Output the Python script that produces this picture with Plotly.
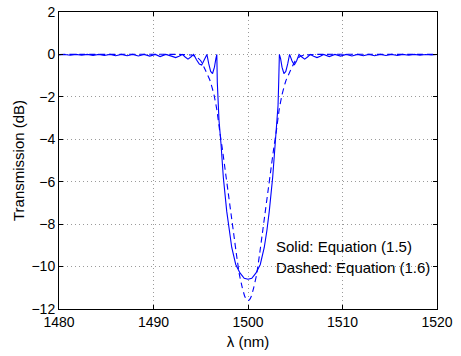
import plotly.graph_objects as go

# Wavelength grid (nm) and transmission (dB), solid curve: Equation (1.5)
lam_solid = [
    1480.0, 1480.6, 1481.2, 1481.8, 1482.4, 1483.0, 1483.6, 1484.2, 1484.8,
    1485.4, 1486.0, 1486.6, 1487.2, 1487.8, 1488.4, 1489.0, 1489.6, 1490.2,
    1490.7, 1491.3, 1491.9, 1492.35, 1492.7, 1493.05, 1493.35, 1493.65, 1493.95,
    1494.25, 1494.55, 1494.85, 1495.1, 1495.35, 1495.65, 1495.85, 1496.05, 1496.25,
    1496.45, 1496.6, 1496.70, 1496.75, 1496.82, 1496.93, 1497.14, 1497.39, 1497.75,
    1498.0, 1498.28, 1498.7, 1499.15, 1499.6, 1500.0, 1500.4, 1500.85, 1501.3,
    1501.72, 1502.0, 1502.25, 1502.61, 1502.86, 1503.07, 1503.18, 1503.25, 1503.32,
    1503.45, 1503.6, 1503.8, 1504.0, 1504.2, 1504.4, 1504.65, 1504.9, 1505.15,
    1505.4, 1505.7, 1506.0, 1506.3, 1506.6, 1506.95, 1507.3, 1507.65, 1508.0,
    1508.6, 1509.2, 1509.8, 1510.4, 1511.0, 1511.6, 1512.2, 1512.8, 1513.4,
    1514.0, 1514.6, 1515.2, 1515.8, 1516.4, 1517.0, 1517.6, 1518.2, 1518.8,
    1519.4, 1520.0,
]
db_solid = [
    -0.03, 0.0, -0.04, 0.0, -0.04, 0.0, -0.05, 0.0, -0.05,
    0.0, -0.06, 0.0, -0.06, 0.0, -0.07, 0.0, -0.08, 0.0,
    -0.1, 0.0, -0.08, -0.15, -0.08, 0.0, -0.12, -0.22, -0.12,
    0.0, -0.25, -0.45, -0.5, -0.3, 0.0, -0.45, -0.8, -0.9,
    -0.6, -0.2, 0.0, -1.3, -2.4, -3.1, -4.2, -5.8, -7.4,
    -8.3, -9.1, -9.9, -10.3, -10.55, -10.6, -10.55, -10.3, -9.9,
    -9.1, -8.3, -7.4, -5.8, -4.2, -3.1, -2.4, -1.3, 0.0,
    -0.2, -0.6, -0.9, -0.8, -0.45, 0.0, -0.3, -0.5, -0.3,
    0.0, -0.12, -0.22, -0.12, 0.0, -0.08, -0.15, -0.08, 0.0,
    -0.1, 0.0, -0.08, 0.0, -0.07, 0.0, -0.06, 0.0, -0.06,
    0.0, -0.05, 0.0, -0.05, 0.0, -0.04, 0.0, -0.04, 0.0,
    -0.03, 0.0,
]

# Dashed curve: Equation (1.6)
lam_dashed = [
    1480.0, 1493.0, 1494.0, 1494.5, 1495.0, 1495.5, 1496.0, 1496.4, 1496.7,
    1497.0, 1497.3, 1497.6, 1497.9, 1498.2, 1498.5, 1498.8, 1499.1, 1499.4,
    1499.65, 1499.85, 1500.0, 1500.15, 1500.35, 1500.6, 1500.9, 1501.2, 1501.5,
    1501.8, 1502.1, 1502.4, 1502.7, 1503.0, 1503.3, 1503.6, 1504.0, 1504.5,
    1505.0, 1505.5, 1506.0, 1507.0, 1520.0,
]
db_dashed = [
    0.0, 0.0, -0.03, -0.1, -0.3, -0.75, -1.25, -1.9, -2.6,
    -3.6, -4.5, -5.5, -6.5, -7.5, -8.5, -9.5, -10.4, -11.0,
    -11.4, -11.57, -11.6, -11.57, -11.4, -11.0, -10.4, -9.5, -8.5,
    -7.5, -6.5, -5.5, -4.5, -3.6, -2.6, -1.9, -1.25, -0.75,
    -0.3, -0.1, -0.03, 0.0, 0.0,
]

x_ticks = [1480, 1490, 1500, 1510, 1520]
y_ticks = [-12, -10, -8, -6, -4, -2, 0, 2]
legend_lines = ["Solid: Equation (1.5)", "Dashed: Equation (1.6)"]

BLUE = "#0000ff"
FONT = "Liberation Sans, Arial, sans-serif"

fig = go.Figure()
fig.add_trace(go.Scatter(
    x=lam_solid, y=db_solid, mode="lines",
    line=dict(color=BLUE, width=1.1),
    showlegend=False, hoverinfo="skip",
))
fig.add_trace(go.Scatter(
    x=lam_dashed, y=db_dashed, mode="lines",
    line=dict(color=BLUE, width=1.1, dash="6px,4px", shape="spline", smoothing=0.4),
    showlegend=False, hoverinfo="skip",
))

# Text key placed inside the axes, lower right
for i, txt in enumerate(legend_lines):
    fig.add_annotation(
        x=1502.75, y=-9.05 - i * 0.98, xref="x", yref="y",
        text=txt, showarrow=False, xanchor="left", yanchor="middle",
        font=dict(family=FONT, size=15, color="black"),
    )

axis_common = dict(
    showline=True, linecolor="black", linewidth=1, mirror="ticks",
    ticks="inside", ticklen=4, tickcolor="black", tickwidth=1,
    showgrid=True, gridcolor="#9a9a9a", gridwidth=1, griddash="1px,3px",
    zeroline=False, automargin=False,
    tickfont=dict(family=FONT, size=14, color="black"),
)

fig.update_xaxes(
    range=[1480, 1520], tickvals=x_ticks,
    title=dict(text="λ (nm)", font=dict(family=FONT, size=15, color="black"), standoff=7),
    **axis_common,
)
fig.update_yaxes(
    range=[-12, 2], tickvals=y_ticks,
    title=dict(text="Transmission (dB)", font=dict(family=FONT, size=15, color="black"), standoff=3),
    **axis_common,
)

fig.update_layout(
    width=461, height=356,
    margin=dict(l=59, r=24, t=12, b=47),
    paper_bgcolor="white", plot_bgcolor="white",
    font=dict(family=FONT, size=14, color="black"),
)

fig.write_html("out.html")
